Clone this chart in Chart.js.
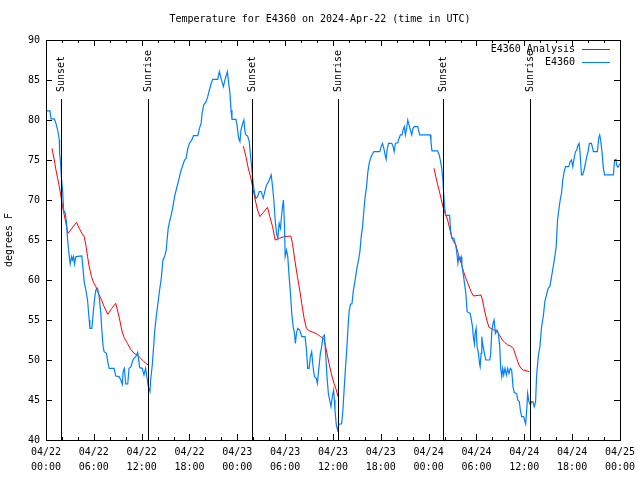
<!DOCTYPE html>
<html>
<head>
<meta charset="utf-8">
<script src="https://cdn.jsdelivr.net/npm/chart.js@4/dist/chart.umd.min.js"></script>
<style>
  html, body { margin: 0; padding: 0; background: #ffffff; }
  #c { display: block; }
</style>
</head>
<body>
<canvas id="c" width="640" height="480"></canvas>
<script>
// ---------------- DATA ----------------
const chartTitle = 'Temperature for E4360 on 2024-Apr-22 (time in UTC)';
const yAxisTitle = 'degrees F';
const seriesNames = ['E4360 Analysis', 'E4360'];

// x tick labels (hours since 2024-04-22 00:00 UTC, every 6 h)
const xTickDates = ['04/22','04/22','04/22','04/22','04/23','04/23','04/23','04/23','04/24','04/24','04/24','04/24','04/25'];
const xTickTimes = ['00:00','06:00','12:00','18:00','00:00','06:00','12:00','18:00','00:00','06:00','12:00','18:00','00:00'];

// sunset / sunrise times (hours)
const sunsetHours  = [1.92, 25.79, 49.79];
const sunriseHours = [12.79, 36.67, 60.67];

// E4360 observed (hours, °F)
const obsHours = [
 0,0.5,0.63,1.04,1.25,1.46,1.67,1.71,1.83,1.92,2.08,2.21,2.42,2.58,2.71,2.92,3.04,3.21,3.33,3.46,3.58,3.75,4.5,4.58,4.79,5,5.21,5.42,5.5,5.75,5.92,6.08,6.25,6.46,6.67,6.88,7,7.17,7.29,7.58,7.75,7.92,8.54,8.75,9.17,9.38,9.58,9.67,9.83,10,10.25,10.42,10.67,10.83,11.04,11.25,11.5,11.75,12.08,12.29,12.5,12.71,12.83,13.04,
 13.13,13.33,13.5,13.63,13.83,14.04,14.25,14.46,14.67,14.88,15.08,15.21,15.33,15.5,15.71,15.92,16.13,16.33,16.54,16.75,16.96,17.17,17.38,17.58,17.79,18,18.29,18.5,19.04,19.25,19.46,19.58,19.79,20.08,20.29,20.5,20.71,20.92,21.54,21.75,21.96,22.25,22.5,22.75,22.92,23.08,23.21,23.33,23.83,23.96,24.17,24.33,24.46,24.67,24.83,24.96,25.08,25.29,25.5,25.63,25.75,25.83,26,
 26.17,26.33,26.54,26.75,27,27.25,27.5,27.67,27.92,28.08,28.25,28.42,28.58,28.75,28.92,29.08,29.25,29.42,29.5,29.67,29.79,29.92,30,30.17,30.33,30.5,30.67,30.83,31,31.17,31.29,31.42,31.58,31.83,32.08,32.5,32.67,32.83,33,33.17,33.33,33.5,33.67,33.92,34.04,34.25,34.42,34.58,34.75,34.92,35.08,35.25,35.42,35.58,35.75,35.92,36.08,36.17,36.25,36.42,36.58,36.75,37.08,37.25,37.42,37.58,37.75,37.92,
 38.04,38.21,38.38,38.54,38.71,38.88,39.04,39.21,39.38,39.54,39.71,39.88,40.04,40.21,40.38,40.54,40.71,40.88,41.13,41.88,42.04,42.21,42.38,42.54,42.67,42.79,42.96,43.38,43.54,43.67,43.83,44.13,44.29,44.46,44.67,44.79,44.96,45.08,45.21,45.38,45.54,45.71,45.88,46.04,46.21,46.63,46.88,48.21,48.29,48.42,49.13,49.33,49.5,49.67,49.79,49.88,50,50.13,50.63,
 50.75,50.92,51.17,51.33,51.5,51.67,51.79,51.92,52.08,52.17,52.33,52.5,52.67,52.83,53.21,53.33,53.5,53.63,53.75,53.83,53.96,54.08,54.25,54.38,54.46,54.58,54.67,54.79,55,55.17,55.67,55.79,55.92,56.08,56.21,56.38,56.58,56.75,56.92,57.04,57.17,57.29,57.42,57.58,57.75,57.92,58.08,58.25,58.42,58.58,58.75,59.04,59.17,59.38,59.5,59.67,59.92,60.08,60.17,60.33,60.42,60.58,60.75,60.92,61.08,61.25,61.42,61.54,61.75,61.96,62.17,62.38,62.58,62.79,63,63.21,63.42,63.63,63.83,64,64.17,64.33,64.5,64.67,64.83,65,65.17,65.58,65.75,65.92,66.08,66.25,66.42,66.58,66.75,66.88,67,67.17,67.33,67.5,67.67,67.83,68,68.17,68.42,68.58,68.67,69.17,69.33,69.46,69.58,69.75,69.92,70.08,71.17,71.33,71.5,71.58,71.75,72
];
const obsTemps = [
 81.13,81.13,80.13,80.13,79.58,78.75,77.5,75.83,74.58,72.92,71.25,68.75,68.33,67.08,65,62.92,62,62.92,62.5,62.92,62,62.92,63,62.08,59.79,58.75,57.5,55,53.96,53.96,55.83,57.5,58.75,58.96,57.92,55.83,53.75,51.67,51.04,50.83,49.79,48.96,48.96,48,47.92,47.5,46.96,48.54,48.96,47,47,48.96,49.17,49.79,50.21,50.42,50.96,49.04,48.96,48.13,48.96,47.5,46.67,46.04,
 47.5,49.38,51.67,53.54,55.42,57.08,58.75,60.21,62.5,62.92,63.75,65.21,66.46,67.29,68.13,69.17,70.42,71.25,72.08,72.92,73.75,74.38,75,75.21,76.46,77.08,77.5,78.04,78.04,78.96,79.58,80.83,81.88,82.29,82.92,83.75,84.58,85.08,85.08,86.04,85.21,84.17,85.21,86.04,84.58,83.33,81.25,80.08,80.08,79.38,77.71,77.29,78.75,79.58,80,78.54,78.13,78,77.29,75.83,74.58,73.75,71.88,
 70.83,70.21,70.42,71.04,71.04,70.21,71.25,71.88,72.29,72.71,73.13,71.67,70,67.5,65.83,65.21,67.08,66.46,67.5,69.17,70,66.67,62.92,63.75,62.92,60.42,58.33,55.83,54.17,53.33,52.08,53.33,53.96,53.75,52.92,52.92,51.25,48.96,48.96,50.42,51.04,49.17,47.92,47.71,47.08,49.17,50.83,51.67,52.92,53.13,50.83,47.92,45.83,45,44.17,45.42,46.25,45,43.75,41.88,41.25,42,42,43.75,46.67,49.17,51.67,54.58,
 56.25,57,57,58.54,59.58,60.63,61.67,62.5,63.54,65.42,66.67,68.75,70.42,71.67,73.54,74.58,75.21,75.63,76.04,76.04,76.67,77.08,76.46,75.63,75.08,76.25,77.08,77.08,76.67,76.04,77.08,77.17,77.71,78.13,78.13,78.75,79.17,78.13,78.75,80,79.38,78.75,78.13,78.96,79.17,79.17,78.13,78.13,77.29,76.13,76.13,75.63,74.79,73.75,72.5,70.83,69.17,68.08,68.08,
 66.25,65.21,65.21,64.58,63.75,62.08,62.92,62.5,62.92,61.88,60.83,59.58,58.33,56.04,55.83,55.21,54.17,52.71,52,53.33,53.96,51.67,50.83,49.58,49.17,50.83,52.92,51.88,50.83,50,50,50.83,53.54,54.58,55,53.33,53.75,53.33,51.67,48.96,47.92,48.96,48.13,48.96,48.13,48.96,48.33,48.96,48.75,46.67,45.92,45.83,45,44.79,43.75,42.92,42.92,42.29,42,44.17,45.83,44.79,44.38,44.79,44.79,44.17,44.79,47.92,50.42,51.67,54.17,55.42,57.29,58.13,58.96,59.17,60.42,61.67,62.92,64.17,67.5,68.75,70,70.83,72.5,73.54,74.17,74.17,74.79,75,74.17,75.21,76.04,76.25,76.88,77.08,75.83,73.13,73.13,73.75,74.58,75.42,76.04,77.08,77.08,76.46,76.04,76.04,77.71,78.13,77.5,76.04,73.96,73.13,73.13,75,75.08,74.38,74.08,74.5
];

// E4360 Analysis (hours, °F); null = gap between nights
const anaHours = [
 0.75,1.04,1.25,1.46,1.67,1.88,2.08,2.29,2.5,2.75,3.83,4.17,4.5,4.79,5,5.21,5.42,5.71,5.92,6.25,6.46,6.88,7.29,7.75,8.25,8.75,8.96,9.25,9.5,9.79,10.21,10.63,11.04,11.46,11.88,12.29,12.79,
 18,
 24.75,25.08,25.42,25.5,25.75,26,26.25,26.54,26.83,27.79,28.08,28.42,28.75,29.25,29.88,30.71,30.92,31.21,31.54,31.83,32.08,32.38,32.67,33,33.63,34.04,34.46,34.88,35.17,35.5,35.83,36.13,36.42,36.63,
 42,
 48.67,49.04,49.46,49.79,50.08,50.38,50.5,50.83,51.13,51.42,51.75,52.08,52.38,52.67,53,53.33,53.63,54.58,54.75,55,55.29,55.58,56.33,56.67,56.96,57.25,57.58,57.92,58.25,58.63,58.83,59.04,59.33,59.58,59.88,60.63
];
const anaTemps = [
 76.46,75,73.75,72.71,71.67,70.42,69.17,68.13,67.08,65.83,67.21,66.46,65.83,65.42,64.38,62.92,61.67,60.42,59.79,59.17,58.54,57.71,56.67,55.71,56.46,57.08,56.25,55,53.75,52.83,52.08,51.33,50.83,50.63,50.21,49.79,49.38,
 null,
 76.75,75.42,73.75,73.54,72.5,71.25,70,68.75,67.92,69.08,67.92,66.67,65,65.21,65.42,65.5,64.58,62.5,60.42,58.75,57.08,55.21,53.96,53.67,53.42,53.21,52.92,52.58,51.25,49.58,48.13,47.08,46.25,45.42,
 null,
 73.96,72.29,70.63,69.17,68.33,67.5,67,65.63,64.79,64.38,63.13,62.08,61.04,60.21,59.38,58.54,58,58.13,57.5,56.25,55,54.08,53.67,53.42,53,52.5,52.17,51.88,51.75,51.46,50.83,50.21,49.38,48.96,48.75,48.54
];

// ---------------- CHART ----------------
const FONT = 'DejaVu Sans Mono';
const fnt = { family: FONT, size: 10, lineHeight: 1.5 };

const obsData = obsHours.map((h, i) => ({ x: h, y: obsTemps[i] }));
const anaData = anaHours.map((h, i) => ({ x: h, y: anaTemps[i] }));

const decor = {
  id: 'decor',
  beforeDraw(chart) {
    const c = chart.ctx;
    c.save();
    c.fillStyle = '#ffffff';
    c.fillRect(0, 0, chart.width, chart.height);
    c.restore();
  },
  afterDatasetsDraw(chart) {
    const c = chart.ctx;
    const xs = chart.scales.x, ys = chart.scales.y;
    const a = chart.chartArea;
    c.save();
    // sunrise / sunset lines & labels
    c.strokeStyle = '#000000';
    c.lineWidth = 1;
    c.fillStyle = '#000000';
    c.font = `10px "${FONT}"`;
    const marks = [];
    sunsetHours.forEach(h => marks.push([h, 'Sunset']));
    sunriseHours.forEach(h => marks.push([h, 'Sunrise']));
    marks.forEach(([h, lab]) => {
      const px = Math.round(xs.getPixelForValue(h)) + 0.5;
      c.beginPath();
      c.moveTo(px, a.top + 59);
      c.lineTo(px, a.bottom);
      c.stroke();
      c.save();
      c.translate(px, a.top + 52);
      c.rotate(-Math.PI / 2);
      c.textAlign = 'left';
      c.textBaseline = 'middle';
      c.fillText(lab, 0, 0);
      c.restore();
    });
    // border box
    c.strokeRect(Math.round(a.left) + 0.5, Math.round(a.top) + 0.5,
                 Math.round(a.right - a.left), Math.round(a.bottom - a.top));
    // inward ticks
    c.beginPath();
    for (let h = 0; h <= 72; h += 2) {
      const px = Math.round(xs.getPixelForValue(h)) + 0.5;
      const len = (h % 6 === 0) ? 6 : 3;
      c.moveTo(px, a.bottom); c.lineTo(px, a.bottom - len);
      c.moveTo(px, a.top); c.lineTo(px, a.top + len);
    }
    for (let v = 40; v <= 90; v += 5) {
      const py = Math.round(ys.getPixelForValue(v)) + 0.5;
      c.moveTo(a.left, py); c.lineTo(a.left + 6, py);
      c.moveTo(a.right, py); c.lineTo(a.right - 6, py);
    }
    c.stroke();
    // legend
    const legendItems = [[seriesNames[0], '#ff0000'], [seriesNames[1], '#0080ff']];
    legendItems.forEach(([name, col], i) => {
      const y = a.top + 9 + i * 13;
      c.fillStyle = '#000000';
      c.textAlign = 'right';
      c.textBaseline = 'middle';
      c.fillText(name, 575, y);
      c.strokeStyle = col;
      c.beginPath();
      c.moveTo(582, y + 0.5);
      c.lineTo(610, y + 0.5);
      c.stroke();
    });
    // title
    c.fillStyle = '#000000';
    c.textAlign = 'center';
    c.textBaseline = 'middle';
    c.fillText(chartTitle, 320, 19);
    c.restore();
  }
};

new Chart(document.getElementById('c'), {
  type: 'line',
  data: {
    datasets: [
      { label: seriesNames[1], data: obsData, borderColor: '#0080ff', backgroundColor: '#0080ff',
        borderWidth: 1.2, pointRadius: 0, tension: 0, order: 0 },
      { label: seriesNames[0], data: anaData, borderColor: '#ff0000', backgroundColor: '#ff0000',
        borderWidth: 1, pointRadius: 0, tension: 0, spanGaps: false, order: 1 }
    ]
  },
  options: {
    responsive: false,
    animation: false,
    events: [],
    layout: { padding: { left: 0, right: 18, top: 40, bottom: 0 } },
    plugins: { legend: { display: false }, title: { display: false }, tooltip: { enabled: false } },
    scales: {
      x: {
        type: 'linear', min: 0, max: 72,
        afterBuildTicks: s => { s.ticks = xTickTimes.map((_, i) => ({ value: i * 6 })); },
        ticks: {
          autoSkip: false, maxRotation: 0, color: '#000000', font: fnt, padding: 5,
          callback: (v) => [xTickDates[v / 6], xTickTimes[v / 6]]
        },
        grid: { display: false, drawTicks: false },
        border: { display: false },
        afterFit: s => { s.height = 40; }
      },
      y: {
        min: 40, max: 90,
        ticks: { stepSize: 5, color: '#000000', font: fnt, padding: 6 },
        title: { display: true, text: yAxisTitle, color: '#000000', font: fnt, padding: { top: 2, bottom: 0 } },
        grid: { display: false, drawTicks: false },
        border: { display: false },
        afterFit: s => { s.width = 46; }
      }
    }
  },
  plugins: [decor]
});
</script>
</body>
</html>
